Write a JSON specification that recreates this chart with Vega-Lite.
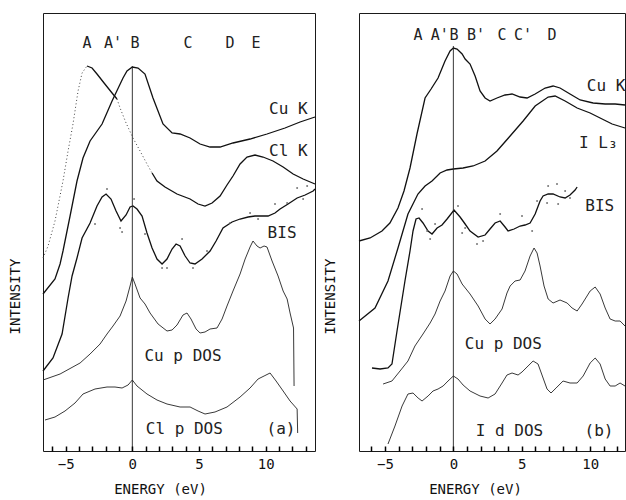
{
"$schema": "https://vega.github.io/schema/vega-lite/v6.json",
"padding": {"left": 7, "top": 12, "right": 0, "bottom": 0},
"bounds": "flush",
"spacing": 44,
"datasets": {
"curves": [
{"p":"a","s":"Cu K","E":-6.70,"I":157},{"p":"a","s":"Cu K","E":-5.80,"I":172},{"p":"a","s":"Cu K","E":-5.42,"I":187},{"p":"a","s":"Cu K","E":-5.20,"I":200},{"p":"a","s":"Cu K","E":-4.67,"I":235},{"p":"a","s":"Cu K","E":-4.15,"I":270},{"p":"a","s":"Cu K","E":-3.70,"I":293},{"p":"a","s":"Cu K","E":-3.17,"I":310},{"p":"a","s":"Cu K","E":-2.27,"I":327},{"p":"a","s":"Cu K","E":-1.52,"I":350},{"p":"a","s":"Cu K","E":-0.70,"I":373},{"p":"a","s":"Cu K","E":-0.40,"I":380},{"p":"a","s":"Cu K","E":0,"I":384},{"p":"a","s":"Cu K","E":0.43,"I":383},{"p":"a","s":"Cu K","E":0.95,"I":377},{"p":"a","s":"Cu K","E":1.55,"I":353},{"p":"a","s":"Cu K","E":2.30,"I":327},{"p":"a","s":"Cu K","E":2.98,"I":318},{"p":"a","s":"Cu K","E":3.58,"I":317},{"p":"a","s":"Cu K","E":4.33,"I":313},{"p":"a","s":"Cu K","E":5.08,"I":307},{"p":"a","s":"Cu K","E":5.83,"I":304},{"p":"a","s":"Cu K","E":6.58,"I":304},{"p":"a","s":"Cu K","E":7.55,"I":308},{"p":"a","s":"Cu K","E":8.83,"I":312},{"p":"a","s":"Cu K","E":10.10,"I":317},{"p":"a","s":"Cu K","E":11.45,"I":323},{"p":"a","s":"Cu K","E":12.58,"I":329},{"p":"a","s":"Cu K","E":13.70,"I":334},
{"p":"a","s":"Cl K 1","E":-6.70,"I":193},{"p":"a","s":"Cl K 1","E":-6.32,"I":205},{"p":"a","s":"Cl K 1","E":-5.80,"I":230},{"p":"a","s":"Cl K 1","E":-5.20,"I":270},{"p":"a","s":"Cl K 1","E":-4.82,"I":300},{"p":"a","s":"Cl K 1","E":-4.45,"I":327},{"p":"a","s":"Cl K 1","E":-4.07,"I":360},{"p":"a","s":"Cl K 1","E":-3.77,"I":378},{"p":"a","s":"Cl K 1","E":-3.40,"I":385},
{"p":"a","s":"Cl K 2","E":-3.40,"I":385},{"p":"a","s":"Cl K 2","E":-3.02,"I":383},{"p":"a","s":"Cl K 2","E":-2.65,"I":377},{"p":"a","s":"Cl K 2","E":-2.12,"I":368},{"p":"a","s":"Cl K 2","E":-1.52,"I":358},{"p":"a","s":"Cl K 2","E":-1.15,"I":352},
{"p":"a","s":"Cl K 3","E":-1.15,"I":352},{"p":"a","s":"Cl K 3","E":-0.92,"I":343},{"p":"a","s":"Cl K 3","E":-0.47,"I":328},{"p":"a","s":"Cl K 3","E":0.05,"I":313},{"p":"a","s":"Cl K 3","E":0.58,"I":300},{"p":"a","s":"Cl K 3","E":1.10,"I":287},{"p":"a","s":"Cl K 3","E":1.48,"I":278},
{"p":"a","s":"Cl K 4","E":1.48,"I":278},{"p":"a","s":"Cl K 4","E":1.85,"I":270},{"p":"a","s":"Cl K 4","E":2.45,"I":264},{"p":"a","s":"Cl K 4","E":3.35,"I":257},{"p":"a","s":"Cl K 4","E":4.33,"I":252},{"p":"a","s":"Cl K 4","E":4.93,"I":247},{"p":"a","s":"Cl K 4","E":5.45,"I":245},{"p":"a","s":"Cl K 4","E":5.98,"I":248},{"p":"a","s":"Cl K 4","E":6.58,"I":255},{"p":"a","s":"Cl K 4","E":7.10,"I":266},{"p":"a","s":"Cl K 4","E":7.55,"I":275},{"p":"a","s":"Cl K 4","E":8.08,"I":287},{"p":"a","s":"Cl K 4","E":8.60,"I":294},{"p":"a","s":"Cl K 4","E":9.20,"I":296},{"p":"a","s":"Cl K 4","E":9.80,"I":294},{"p":"a","s":"Cl K 4","E":10.55,"I":290},{"p":"a","s":"Cl K 4","E":11.31,"I":284},{"p":"a","s":"Cl K 4","E":12.06,"I":277},{"p":"a","s":"Cl K 4","E":12.81,"I":272},{"p":"a","s":"Cl K 4","E":13.70,"I":267},
{"p":"a","s":"BIS","E":-6.70,"I":80},{"p":"a","s":"BIS","E":-5.95,"I":93},{"p":"a","s":"BIS","E":-5.27,"I":117},{"p":"a","s":"BIS","E":-4.82,"I":153},{"p":"a","s":"BIS","E":-4.52,"I":175},{"p":"a","s":"BIS","E":-4.15,"I":193},{"p":"a","s":"BIS","E":-3.77,"I":213},{"p":"a","s":"BIS","E":-3.17,"I":228},{"p":"a","s":"BIS","E":-2.65,"I":245},{"p":"a","s":"BIS","E":-2.27,"I":254},{"p":"a","s":"BIS","E":-1.97,"I":257},{"p":"a","s":"BIS","E":-1.60,"I":252},{"p":"a","s":"BIS","E":-1.22,"I":240},{"p":"a","s":"BIS","E":-0.85,"I":230},{"p":"a","s":"BIS","E":-0.47,"I":236},{"p":"a","s":"BIS","E":-0.17,"I":244},{"p":"a","s":"BIS","E":0.05,"I":245},{"p":"a","s":"BIS","E":0.35,"I":242},{"p":"a","s":"BIS","E":0.73,"I":235},{"p":"a","s":"BIS","E":1.10,"I":218},{"p":"a","s":"BIS","E":1.48,"I":203},{"p":"a","s":"BIS","E":1.85,"I":192},{"p":"a","s":"BIS","E":2.23,"I":187},{"p":"a","s":"BIS","E":2.60,"I":192},{"p":"a","s":"BIS","E":2.98,"I":202},{"p":"a","s":"BIS","E":3.28,"I":207},{"p":"a","s":"BIS","E":3.58,"I":205},{"p":"a","s":"BIS","E":3.96,"I":195},{"p":"a","s":"BIS","E":4.33,"I":188},{"p":"a","s":"BIS","E":4.70,"I":187},{"p":"a","s":"BIS","E":5.23,"I":192},{"p":"a","s":"BIS","E":5.83,"I":200},{"p":"a","s":"BIS","E":6.28,"I":210},{"p":"a","s":"BIS","E":6.80,"I":223},{"p":"a","s":"BIS","E":7.48,"I":229},{"p":"a","s":"BIS","E":8.08,"I":232},{"p":"a","s":"BIS","E":8.68,"I":234},{"p":"a","s":"BIS","E":9.20,"I":235},{"p":"a","s":"BIS","E":9.73,"I":235},{"p":"a","s":"BIS","E":10.18,"I":235},{"p":"a","s":"BIS","E":10.70,"I":238},{"p":"a","s":"BIS","E":11.08,"I":242},{"p":"a","s":"BIS","E":11.68,"I":247},{"p":"a","s":"BIS","E":12.36,"I":253},{"p":"a","s":"BIS","E":12.96,"I":256},{"p":"a","s":"BIS","E":13.56,"I":260},{"p":"a","s":"BIS","E":13.70,"I":262},
{"p":"a","s":"Cu p DOS","E":-6.70,"I":71},{"p":"a","s":"Cu p DOS","E":-5.42,"I":77},{"p":"a","s":"Cu p DOS","E":-3.92,"I":88},{"p":"a","s":"Cu p DOS","E":-3.17,"I":97},{"p":"a","s":"Cu p DOS","E":-2.42,"I":107},{"p":"a","s":"Cu p DOS","E":-1.90,"I":117},{"p":"a","s":"Cu p DOS","E":-1.45,"I":125},{"p":"a","s":"Cu p DOS","E":-0.92,"I":135},{"p":"a","s":"Cu p DOS","E":-0.47,"I":150},{"p":"a","s":"Cu p DOS","E":-0.17,"I":165},{"p":"a","s":"Cu p DOS","E":0,"I":174},{"p":"a","s":"Cu p DOS","E":0.20,"I":167},{"p":"a","s":"Cu p DOS","E":0.58,"I":153},{"p":"a","s":"Cu p DOS","E":0.95,"I":147},{"p":"a","s":"Cu p DOS","E":1.33,"I":138},{"p":"a","s":"Cu p DOS","E":1.93,"I":127},{"p":"a","s":"Cu p DOS","E":2.60,"I":120},{"p":"a","s":"Cu p DOS","E":2.98,"I":121},{"p":"a","s":"Cu p DOS","E":3.35,"I":126},{"p":"a","s":"Cu p DOS","E":3.80,"I":136},{"p":"a","s":"Cu p DOS","E":4.10,"I":138},{"p":"a","s":"Cu p DOS","E":4.40,"I":132},{"p":"a","s":"Cu p DOS","E":4.78,"I":122},{"p":"a","s":"Cu p DOS","E":5.08,"I":118},{"p":"a","s":"Cu p DOS","E":5.45,"I":119},{"p":"a","s":"Cu p DOS","E":5.83,"I":122},{"p":"a","s":"Cu p DOS","E":6.35,"I":123},{"p":"a","s":"Cu p DOS","E":6.73,"I":132},{"p":"a","s":"Cu p DOS","E":7.10,"I":145},{"p":"a","s":"Cu p DOS","E":7.55,"I":160},{"p":"a","s":"Cu p DOS","E":8.08,"I":177},{"p":"a","s":"Cu p DOS","E":8.46,"I":192},{"p":"a","s":"Cu p DOS","E":8.83,"I":204},{"p":"a","s":"Cu p DOS","E":9.05,"I":210},{"p":"a","s":"Cu p DOS","E":9.35,"I":205},{"p":"a","s":"Cu p DOS","E":9.58,"I":203},{"p":"a","s":"Cu p DOS","E":9.88,"I":205},{"p":"a","s":"Cu p DOS","E":10.10,"I":204},{"p":"a","s":"Cu p DOS","E":10.48,"I":190},{"p":"a","s":"Cu p DOS","E":10.93,"I":175},{"p":"a","s":"Cu p DOS","E":11.31,"I":160},{"p":"a","s":"Cu p DOS","E":11.61,"I":152},{"p":"a","s":"Cu p DOS","E":11.83,"I":138},{"p":"a","s":"Cu p DOS","E":12.09,"I":123},{"p":"a","s":"Cu p DOS","E":12.13,"I":65},
{"p":"a","s":"Cl p DOS","E":-6.55,"I":31},{"p":"a","s":"Cl p DOS","E":-5.80,"I":34},{"p":"a","s":"Cl p DOS","E":-5.05,"I":40},{"p":"a","s":"Cl p DOS","E":-4.30,"I":48},{"p":"a","s":"Cl p DOS","E":-3.70,"I":57},{"p":"a","s":"Cl p DOS","E":-2.80,"I":62},{"p":"a","s":"Cl p DOS","E":-1.90,"I":64},{"p":"a","s":"Cl p DOS","E":-1.30,"I":64},{"p":"a","s":"Cl p DOS","E":-0.77,"I":63},{"p":"a","s":"Cl p DOS","E":-0.32,"I":66},{"p":"a","s":"Cl p DOS","E":0,"I":71},{"p":"a","s":"Cl p DOS","E":0.35,"I":65},{"p":"a","s":"Cl p DOS","E":1.10,"I":57},{"p":"a","s":"Cl p DOS","E":1.85,"I":51},{"p":"a","s":"Cl p DOS","E":2.60,"I":47},{"p":"a","s":"Cl p DOS","E":3.58,"I":44},{"p":"a","s":"Cl p DOS","E":4.33,"I":44},{"p":"a","s":"Cl p DOS","E":4.93,"I":40},{"p":"a","s":"Cl p DOS","E":5.45,"I":37},{"p":"a","s":"Cl p DOS","E":6.20,"I":39},{"p":"a","s":"Cl p DOS","E":7.10,"I":44},{"p":"a","s":"Cl p DOS","E":8.08,"I":54},{"p":"a","s":"Cl p DOS","E":8.83,"I":63},{"p":"a","s":"Cl p DOS","E":9.43,"I":72},{"p":"a","s":"Cl p DOS","E":9.88,"I":75},{"p":"a","s":"Cl p DOS","E":10.33,"I":78},{"p":"a","s":"Cl p DOS","E":10.78,"I":70},{"p":"a","s":"Cl p DOS","E":11.31,"I":60},{"p":"a","s":"Cl p DOS","E":11.83,"I":50},{"p":"a","s":"Cl p DOS","E":12.36,"I":42},{"p":"a","s":"Cl p DOS","E":12.40,"I":18},
{"p":"b","s":"Cu K","E":-6.90,"I":210},{"p":"b","s":"Cu K","E":-6.09,"I":213},{"p":"b","s":"Cu K","E":-5.22,"I":220},{"p":"b","s":"Cu K","E":-4.64,"I":228},{"p":"b","s":"Cu K","E":-4.05,"I":243},{"p":"b","s":"Cu K","E":-3.61,"I":260},{"p":"b","s":"Cu K","E":-3.17,"I":283},{"p":"b","s":"Cu K","E":-2.66,"I":317},{"p":"b","s":"Cu K","E":-2.07,"I":353},{"p":"b","s":"Cu K","E":-1.63,"I":362},{"p":"b","s":"Cu K","E":-1.12,"I":373},{"p":"b","s":"Cu K","E":-0.61,"I":390},{"p":"b","s":"Cu K","E":-0.24,"I":400},{"p":"b","s":"Cu K","E":0,"I":403},{"p":"b","s":"Cu K","E":0.27,"I":402},{"p":"b","s":"Cu K","E":0.64,"I":397},{"p":"b","s":"Cu K","E":0.86,"I":392},{"p":"b","s":"Cu K","E":1.22,"I":387},{"p":"b","s":"Cu K","E":1.59,"I":375},{"p":"b","s":"Cu K","E":1.95,"I":360},{"p":"b","s":"Cu K","E":2.32,"I":353},{"p":"b","s":"Cu K","E":2.68,"I":350},{"p":"b","s":"Cu K","E":3.19,"I":353},{"p":"b","s":"Cu K","E":3.78,"I":356},{"p":"b","s":"Cu K","E":4.29,"I":357},{"p":"b","s":"Cu K","E":4.88,"I":354},{"p":"b","s":"Cu K","E":5.39,"I":353},{"p":"b","s":"Cu K","E":5.98,"I":357},{"p":"b","s":"Cu K","E":6.71,"I":363},{"p":"b","s":"Cu K","E":7.29,"I":365},{"p":"b","s":"Cu K","E":7.80,"I":363},{"p":"b","s":"Cu K","E":8.53,"I":357},{"p":"b","s":"Cu K","E":9.27,"I":351},{"p":"b","s":"Cu K","E":10.22,"I":348},{"p":"b","s":"Cu K","E":11.10,"I":347},{"p":"b","s":"Cu K","E":11.83,"I":347},{"p":"b","s":"Cu K","E":12.55,"I":346},
{"p":"b","s":"I L3","E":-6.90,"I":130},{"p":"b","s":"I L3","E":-5.73,"I":143},{"p":"b","s":"I L3","E":-4.78,"I":170},{"p":"b","s":"I L3","E":-4.05,"I":203},{"p":"b","s":"I L3","E":-3.32,"I":237},{"p":"b","s":"I L3","E":-2.59,"I":257},{"p":"b","s":"I L3","E":-2.07,"I":265},{"p":"b","s":"I L3","E":-1.56,"I":270},{"p":"b","s":"I L3","E":-0.97,"I":278},{"p":"b","s":"I L3","E":-0.46,"I":281},{"p":"b","s":"I L3","E":0,"I":282},{"p":"b","s":"I L3","E":0.71,"I":283},{"p":"b","s":"I L3","E":1.44,"I":285},{"p":"b","s":"I L3","E":2.32,"I":290},{"p":"b","s":"I L3","E":3.19,"I":300},{"p":"b","s":"I L3","E":4.15,"I":315},{"p":"b","s":"I L3","E":5.10,"I":330},{"p":"b","s":"I L3","E":5.98,"I":345},{"p":"b","s":"I L3","E":6.93,"I":354},{"p":"b","s":"I L3","E":7.44,"I":355},{"p":"b","s":"I L3","E":8.17,"I":350},{"p":"b","s":"I L3","E":9.05,"I":343},{"p":"b","s":"I L3","E":10.00,"I":338},{"p":"b","s":"I L3","E":10.73,"I":333},{"p":"b","s":"I L3","E":11.61,"I":327},{"p":"b","s":"I L3","E":12.55,"I":323},
{"p":"b","s":"BIS","E":-5.95,"I":83},{"p":"b","s":"BIS","E":-5.36,"I":82},{"p":"b","s":"BIS","E":-4.78,"I":83},{"p":"b","s":"BIS","E":-4.49,"I":87},{"p":"b","s":"BIS","E":-4.12,"I":120},{"p":"b","s":"BIS","E":-3.54,"I":170},{"p":"b","s":"BIS","E":-3.17,"I":200},{"p":"b","s":"BIS","E":-2.95,"I":220},{"p":"b","s":"BIS","E":-2.73,"I":232},{"p":"b","s":"BIS","E":-2.51,"I":233},{"p":"b","s":"BIS","E":-2.22,"I":228},{"p":"b","s":"BIS","E":-1.85,"I":220},{"p":"b","s":"BIS","E":-1.56,"I":217},{"p":"b","s":"BIS","E":-1.19,"I":223},{"p":"b","s":"BIS","E":-0.83,"I":226},{"p":"b","s":"BIS","E":-0.46,"I":232},{"p":"b","s":"BIS","E":0.05,"I":241},{"p":"b","s":"BIS","E":0.49,"I":234},{"p":"b","s":"BIS","E":0.86,"I":227},{"p":"b","s":"BIS","E":1.22,"I":220},{"p":"b","s":"BIS","E":1.81,"I":214},{"p":"b","s":"BIS","E":2.32,"I":216},{"p":"b","s":"BIS","E":2.68,"I":222},{"p":"b","s":"BIS","E":3.05,"I":228},{"p":"b","s":"BIS","E":3.42,"I":230},{"p":"b","s":"BIS","E":3.78,"I":224},{"p":"b","s":"BIS","E":4.00,"I":220},{"p":"b","s":"BIS","E":4.44,"I":222},{"p":"b","s":"BIS","E":4.88,"I":225},{"p":"b","s":"BIS","E":5.24,"I":226},{"p":"b","s":"BIS","E":5.61,"I":228},{"p":"b","s":"BIS","E":5.98,"I":237},{"p":"b","s":"BIS","E":6.34,"I":250},{"p":"b","s":"BIS","E":6.56,"I":255},{"p":"b","s":"BIS","E":6.93,"I":257},{"p":"b","s":"BIS","E":7.29,"I":257},{"p":"b","s":"BIS","E":7.80,"I":254},{"p":"b","s":"BIS","E":8.17,"I":253},{"p":"b","s":"BIS","E":8.53,"I":256},{"p":"b","s":"BIS","E":8.90,"I":261},{"p":"b","s":"BIS","E":9.05,"I":264},
{"p":"b","s":"Cu p DOS","E":-5.14,"I":67},{"p":"b","s":"Cu p DOS","E":-4.49,"I":70},{"p":"b","s":"Cu p DOS","E":-3.90,"I":80},{"p":"b","s":"Cu p DOS","E":-3.32,"I":90},{"p":"b","s":"Cu p DOS","E":-2.81,"I":105},{"p":"b","s":"Cu p DOS","E":-2.22,"I":117},{"p":"b","s":"Cu p DOS","E":-1.70,"I":128},{"p":"b","s":"Cu p DOS","E":-1.34,"I":137},{"p":"b","s":"Cu p DOS","E":-0.97,"I":150},{"p":"b","s":"Cu p DOS","E":-0.61,"I":160},{"p":"b","s":"Cu p DOS","E":-0.24,"I":175},{"p":"b","s":"Cu p DOS","E":0,"I":180},{"p":"b","s":"Cu p DOS","E":0.27,"I":177},{"p":"b","s":"Cu p DOS","E":0.64,"I":167},{"p":"b","s":"Cu p DOS","E":1.22,"I":157},{"p":"b","s":"Cu p DOS","E":1.81,"I":145},{"p":"b","s":"Cu p DOS","E":2.32,"I":132},{"p":"b","s":"Cu p DOS","E":2.68,"I":127},{"p":"b","s":"Cu p DOS","E":3.05,"I":132},{"p":"b","s":"Cu p DOS","E":3.56,"I":142},{"p":"b","s":"Cu p DOS","E":3.92,"I":158},{"p":"b","s":"Cu p DOS","E":4.15,"I":165},{"p":"b","s":"Cu p DOS","E":4.51,"I":170},{"p":"b","s":"Cu p DOS","E":4.88,"I":171},{"p":"b","s":"Cu p DOS","E":5.24,"I":180},{"p":"b","s":"Cu p DOS","E":5.61,"I":195},{"p":"b","s":"Cu p DOS","E":5.90,"I":203},{"p":"b","s":"Cu p DOS","E":6.12,"I":198},{"p":"b","s":"Cu p DOS","E":6.34,"I":185},{"p":"b","s":"Cu p DOS","E":6.63,"I":165},{"p":"b","s":"Cu p DOS","E":6.93,"I":152},{"p":"b","s":"Cu p DOS","E":7.29,"I":148},{"p":"b","s":"Cu p DOS","E":7.80,"I":151},{"p":"b","s":"Cu p DOS","E":8.32,"I":148},{"p":"b","s":"Cu p DOS","E":8.68,"I":143},{"p":"b","s":"Cu p DOS","E":9.05,"I":140},{"p":"b","s":"Cu p DOS","E":9.41,"I":147},{"p":"b","s":"Cu p DOS","E":10.00,"I":160},{"p":"b","s":"Cu p DOS","E":10.37,"I":164},{"p":"b","s":"Cu p DOS","E":10.73,"I":157},{"p":"b","s":"Cu p DOS","E":11.10,"I":143},{"p":"b","s":"Cu p DOS","E":11.46,"I":132},{"p":"b","s":"Cu p DOS","E":11.83,"I":130},{"p":"b","s":"Cu p DOS","E":12.19,"I":130},{"p":"b","s":"Cu p DOS","E":12.55,"I":125},
{"p":"b","s":"I d DOS","E":-4.78,"I":7},{"p":"b","s":"I d DOS","E":-4.27,"I":25},{"p":"b","s":"I d DOS","E":-3.75,"I":45},{"p":"b","s":"I d DOS","E":-3.32,"I":57},{"p":"b","s":"I d DOS","E":-2.95,"I":58},{"p":"b","s":"I d DOS","E":-2.58,"I":53},{"p":"b","s":"I d DOS","E":-2.29,"I":50},{"p":"b","s":"I d DOS","E":-1.85,"I":55},{"p":"b","s":"I d DOS","E":-1.49,"I":60},{"p":"b","s":"I d DOS","E":-1.12,"I":62},{"p":"b","s":"I d DOS","E":-0.75,"I":65},{"p":"b","s":"I d DOS","E":-0.39,"I":70},{"p":"b","s":"I d DOS","E":0,"I":75},{"p":"b","s":"I d DOS","E":0.34,"I":72},{"p":"b","s":"I d DOS","E":0.71,"I":66},{"p":"b","s":"I d DOS","E":1.22,"I":60},{"p":"b","s":"I d DOS","E":1.95,"I":55},{"p":"b","s":"I d DOS","E":2.54,"I":53},{"p":"b","s":"I d DOS","E":3.05,"I":57},{"p":"b","s":"I d DOS","E":3.56,"I":68},{"p":"b","s":"I d DOS","E":3.92,"I":76},{"p":"b","s":"I d DOS","E":4.29,"I":78},{"p":"b","s":"I d DOS","E":4.73,"I":76},{"p":"b","s":"I d DOS","E":5.02,"I":79},{"p":"b","s":"I d DOS","E":5.46,"I":85},{"p":"b","s":"I d DOS","E":5.83,"I":90},{"p":"b","s":"I d DOS","E":6.19,"I":87},{"p":"b","s":"I d DOS","E":6.56,"I":73},{"p":"b","s":"I d DOS","E":6.85,"I":62},{"p":"b","s":"I d DOS","E":7.14,"I":58},{"p":"b","s":"I d DOS","E":7.51,"I":63},{"p":"b","s":"I d DOS","E":8.02,"I":70},{"p":"b","s":"I d DOS","E":8.53,"I":68},{"p":"b","s":"I d DOS","E":9.05,"I":68},{"p":"b","s":"I d DOS","E":9.49,"I":75},{"p":"b","s":"I d DOS","E":10.00,"I":88},{"p":"b","s":"I d DOS","E":10.37,"I":93},{"p":"b","s":"I d DOS","E":10.73,"I":87},{"p":"b","s":"I d DOS","E":11.10,"I":72},{"p":"b","s":"I d DOS","E":11.46,"I":65},{"p":"b","s":"I d DOS","E":11.83,"I":65},{"p":"b","s":"I d DOS","E":12.19,"I":68},{"p":"b","s":"I d DOS","E":12.55,"I":65}
],
"dots": [
{"p":"a","E":-1.90,"I":262},{"p":"a","E":-2.80,"I":227},{"p":"a","E":-0.92,"I":223},{"p":"a","E":-0.77,"I":219},{"p":"a","E":0.95,"I":217},{"p":"a","E":2.23,"I":183},{"p":"a","E":2.60,"I":183},{"p":"a","E":3.73,"I":212},{"p":"a","E":4.55,"I":183},{"p":"a","E":5.60,"I":200},{"p":"a","E":7.33,"I":228},{"p":"a","E":8.83,"I":238},{"p":"a","E":9.43,"I":232},{"p":"a","E":10.70,"I":247},{"p":"a","E":11.61,"I":248},{"p":"a","E":12.36,"I":263},{"p":"a","E":12.81,"I":252},{"p":"a","E":13.11,"I":265},{"p":"a","E":0.13,"I":252},
{"p":"b","E":-2.29,"I":242},{"p":"b","E":-1.92,"I":220},{"p":"b","E":-1.34,"I":227},{"p":"b","E":-1.70,"I":212},{"p":"b","E":0.34,"I":245},{"p":"b","E":0.86,"I":223},{"p":"b","E":0.64,"I":218},{"p":"b","E":1.73,"I":207},{"p":"b","E":2.17,"I":210},{"p":"b","E":3.42,"I":237},{"p":"b","E":5.02,"I":235},{"p":"b","E":5.76,"I":220},{"p":"b","E":6.93,"I":265},{"p":"b","E":7.58,"I":267},{"p":"b","E":6.85,"I":248},{"p":"b","E":7.66,"I":247},{"p":"b","E":8.53,"I":253},{"p":"b","E":8.17,"I":260},{"p":"b","E":6.12,"I":250}
],
"refs": [
{"p":"a","E":0,"I":385,"I2":0},{"p":"b","E":0,"I":405,"I2":0}
],
"labels": [
{"p":"a","E":-3.40,"I":408,"t":"A","k":"peak"},{"p":"a","E":-1.45,"I":408,"t":"A'","k":"peak"},{"p":"a","E":0.20,"I":408,"t":"B","k":"peak"},{"p":"a","E":4.18,"I":408,"t":"C","k":"peak"},{"p":"a","E":7.33,"I":408,"t":"D","k":"peak"},{"p":"a","E":9.28,"I":408,"t":"E","k":"peak"},
{"p":"a","E":11.7,"I":342,"t":"Cu K","k":"curve"},{"p":"a","E":11.7,"I":300,"t":"Cl K","k":"curve"},{"p":"a","E":11.23,"I":218,"t":"BIS","k":"curve"},{"p":"a","E":3.8,"I":95,"t":"Cu p DOS","k":"curve"},{"p":"a","E":3.9,"I":22,"t":"Cl p DOS","k":"curve"},{"p":"a","E":11.15,"I":22,"t":"(a)","k":"curve"},
{"p":"b","E":-2.58,"I":416,"t":"A","k":"peak"},{"p":"b","E":-1.0,"I":416,"t":"A'","k":"peak"},{"p":"b","E":0.05,"I":416,"t":"B","k":"peak"},{"p":"b","E":1.65,"I":416,"t":"B'","k":"peak"},{"p":"b","E":3.56,"I":416,"t":"C","k":"peak"},{"p":"b","E":5.1,"I":416,"t":"C'","k":"peak"},{"p":"b","E":7.22,"I":416,"t":"D","k":"peak"},
{"p":"b","E":11.17,"I":365,"t":"Cu K","k":"curve"},{"p":"b","E":10.6,"I":308,"t":"I L₃","k":"curve"},{"p":"b","E":10.7,"I":245,"t":"BIS","k":"curve"},{"p":"b","E":3.65,"I":107,"t":"Cu p DOS","k":"curve"},{"p":"b","E":4.1,"I":20,"t":"I d DOS","k":"curve"},{"p":"b","E":10.65,"I":20,"t":"(b)","k":"curve"}
]
},
"hconcat": [
{
"width": 272, "height": 438,
"encoding": {
"x": {"field": "E", "type": "quantitative", "title": "ENERGY (eV)", "scale": {"domain": [-6.7, 13.7], "nice": false, "zero": false},
"axis": {"values": [-6,-5,-4,-3,-2,-1,0,1,2,3,4,5,6,7,8,9,10,11,12,13], "labelExpr": "datum.value % 5 === 0 ? datum.label : ''", "tickSize": -5, "tickWidth": 1.5, "tickColor": "#000", "tickOpacity": 1, "ticks": true, "labelPadding": 11, "titleX": 117, "titleY": 38, "titleBaseline": "middle", "titleAlign": "center", "zindex": 2}},
"y": {"field": "I", "type": "quantitative", "title": "INTENSITY", "scale": {"domain": [0, 438], "nice": false},
"axis": {"labels": false, "ticks": false, "titleX": -28, "titleY": 283, "titleBaseline": "middle", "titleAlign": "center"}}
},
"layer": [
{"data": {"name": "curves"}, "transform": [{"filter": "datum.p === 'a' && indexof(['Cu K','Cl K 2','Cl K 4','BIS'], datum.s) >= 0"}],
 "mark": {"type": "line", "color": "#111", "strokeWidth": 1.3}, "encoding": {"detail": {"field": "s"}}},
{"data": {"name": "curves"}, "transform": [{"filter": "datum.p === 'a' && indexof(['Cu p DOS','Cl p DOS'], datum.s) >= 0"}],
 "mark": {"type": "line", "color": "#222", "strokeWidth": 0.9}, "encoding": {"detail": {"field": "s"}}},
{"data": {"name": "curves"}, "transform": [{"filter": "datum.p === 'a' && indexof(['Cl K 1','Cl K 3'], datum.s) >= 0"}],
 "mark": {"type": "line", "color": "#444", "strokeWidth": 1, "strokeDash": [1, 2.5]}, "encoding": {"detail": {"field": "s"}}},
{"data": {"name": "refs"}, "transform": [{"filter": "datum.p === 'a'"}],
 "mark": {"type": "rule", "color": "#222", "strokeWidth": 0.9}, "encoding": {"y2": {"field": "I2"}}},
{"data": {"name": "dots"}, "transform": [{"filter": "datum.p === 'a'"}],
 "mark": {"type": "point", "filled": true, "color": "#666", "size": 4, "opacity": 0.9}},
{"data": {"name": "labels"}, "transform": [{"filter": "datum.p === 'a'"}],
 "mark": {"type": "text", "align": "center", "baseline": "middle", "color": "#222"},
 "encoding": {"text": {"field": "t"}, "size": {"field": "k", "type": "nominal", "scale": {"domain": ["peak", "curve"], "range": [15, 16]}, "legend": null}}}
]
},
{
"width": 266, "height": 438,
"encoding": {
"x": {"field": "E", "type": "quantitative", "title": "ENERGY (eV)", "scale": {"domain": [-6.9, 12.55], "nice": false, "zero": false},
"axis": {"values": [-6,-5,-4,-3,-2,-1,0,1,2,3,4,5,6,7,8,9,10,11,12], "labelExpr": "datum.value % 5 === 0 ? datum.label : ''", "tickSize": -5, "tickWidth": 1.5, "tickColor": "#000", "tickOpacity": 1, "ticks": true, "labelPadding": 11, "titleX": 116, "titleY": 38, "titleBaseline": "middle", "titleAlign": "center", "zindex": 2}},
"y": {"field": "I", "type": "quantitative", "title": "INTENSITY", "scale": {"domain": [0, 438], "nice": false},
"axis": {"labels": false, "ticks": false, "titleX": -29, "titleY": 283, "titleBaseline": "middle", "titleAlign": "center"}}
},
"layer": [
{"data": {"name": "curves"}, "transform": [{"filter": "datum.p === 'b' && indexof(['Cu K','I L3','BIS'], datum.s) >= 0"}],
 "mark": {"type": "line", "color": "#111", "strokeWidth": 1.3}, "encoding": {"detail": {"field": "s"}}},
{"data": {"name": "curves"}, "transform": [{"filter": "datum.p === 'b' && indexof(['Cu p DOS','I d DOS'], datum.s) >= 0"}],
 "mark": {"type": "line", "color": "#222", "strokeWidth": 0.9}, "encoding": {"detail": {"field": "s"}}},
{"data": {"name": "refs"}, "transform": [{"filter": "datum.p === 'b'"}],
 "mark": {"type": "rule", "color": "#222", "strokeWidth": 0.9}, "encoding": {"y2": {"field": "I2"}}},
{"data": {"name": "dots"}, "transform": [{"filter": "datum.p === 'b'"}],
 "mark": {"type": "point", "filled": true, "color": "#666", "size": 4, "opacity": 0.9}},
{"data": {"name": "labels"}, "transform": [{"filter": "datum.p === 'b'"}],
 "mark": {"type": "text", "align": "center", "baseline": "middle", "color": "#222"},
 "encoding": {"text": {"field": "t"}, "size": {"field": "k", "type": "nominal", "scale": {"domain": ["peak", "curve"], "range": [14, 16]}, "legend": null}}}
]
}
],
"config": {
"font": "DejaVu Sans Mono",
"background": "white",
"view": {"stroke": "#1a1a1a", "strokeWidth": 1},
"axis": {"grid": false, "domain": false, "labelFont": "DejaVu Sans Mono", "titleFont": "DejaVu Sans Mono", "labelColor": "#111", "titleColor": "#111", "titleFontWeight": "normal", "labelFontSize": 14, "titleFontSize": 14},
"text": {"font": "DejaVu Sans Mono", "fontSize": 16, "color": "#111"}
}
}
